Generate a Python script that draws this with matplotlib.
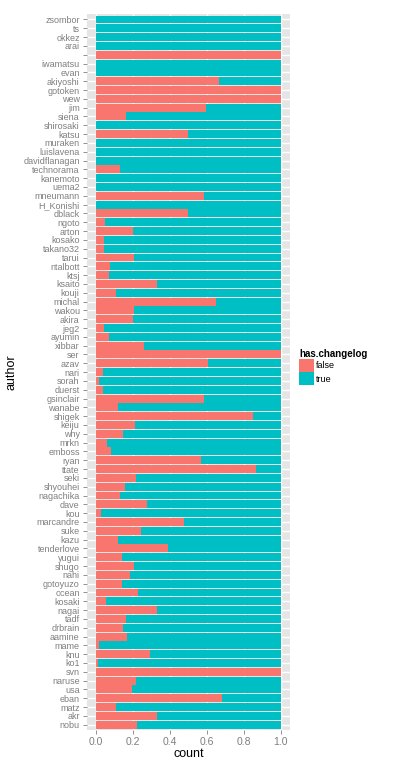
import numpy as np
import matplotlib
matplotlib.use('Agg')
import matplotlib.pyplot as plt
from matplotlib.patches import Patch

plt.rcParams['font.family'] = ['Liberation Sans', 'DejaVu Sans']

authors = ['zsombor', 'ts', 'okkez', 'arai', '', 'iwamatsu', 'evan', 'akiyoshi', 'gotoken', 'wew',
           'jim', 'siena', 'shirosaki', 'katsu', 'muraken', 'luislavena', 'davidflanagan', 'technorama',
           'kanemoto', 'uema2', 'mneumann', 'H_Konishi', 'dblack', 'ngoto', 'arton', 'kosako', 'takano32',
           'tarui', 'ntalbott', 'ktsj', 'ksaito', 'kouji', 'michal', 'wakou', 'akira', 'jeg2', 'ayumin',
           'xibbar', 'ser', 'azav', 'nari', 'sorah', 'duerst', 'gsinclair', 'wanabe', 'shigek', 'keiju',
           'why', 'mrkn', 'emboss', 'ryan', 'ttate', 'seki', 'shyouhei', 'nagachika', 'dave', 'kou',
           'marcandre', 'suke', 'kazu', 'tenderlove', 'yugui', 'shugo', 'nahi', 'gotoyuzo', 'ocean',
           'kosaki', 'nagai', 'tadf', 'drbrain', 'aamine', 'mame', 'knu', 'ko1', 'svn', 'naruse', 'usa',
           'eban', 'matz', 'akr', 'nobu']
# share of commits with has.changelog == false
false_share = [0, 0, 0, 0, 1.0, 0, 0, 0.664, 1.0, 1.0,
               0.598, 0.164, 0, 0.5, 0, 0, 0, 0.131,
               0, 0, 0.587, 0, 0.5, 0.05, 0.2, 0.045, 0.045,
               0.207, 0.078, 0.072, 0.333, 0.11, 0.647, 0.207, 0.2, 0.045, 0.072,
               0.262, 1.0, 0.609, 0.04, 0.018, 0.04, 0.587, 0.121, 0.848, 0.213,
               0.148, 0.061, 0.083, 0.571, 0.864, 0.219, 0.159, 0.131, 0.278, 0.029,
               0.479, 0.246, 0.121, 0.392, 0.142, 0.207, 0.186, 0.142, 0.23,
               0.056, 0.333, 0.164, 0.148, 0.17, 0.018, 0.295, 0.013, 1.0, 0.219, 0.197,
               0.68, 0.11, 0.333, 0.224]
true_share = [1 - f for f in false_share]

red = '#F8766D'
teal = '#00BFC4'
grey_txt = '#7F7F7F'

fig = plt.figure(figsize=(4, 7.68), dpi=100)
ax = fig.add_axes([0.2167, 0.0495, 0.5083, 0.932])
ax.set_facecolor('#E5E5E5')

y = np.arange(len(authors))
ax.barh(y, false_share, height=0.9, color=red, linewidth=0, zorder=3)
ax.barh(y, true_share, left=false_share, height=0.9, color=teal, linewidth=0, zorder=3)

ax.set_xlim(-0.05, 1.05)
ax.set_ylim(len(authors) - 0.4, -0.6)

ax.set_xticks([0, 0.2, 0.4, 0.6, 0.8, 1.0])
ax.set_xticklabels(['0.0', '0.2', '0.4', '0.6', '0.8', '1.0'])
ax.set_xticks([0.1, 0.3, 0.5, 0.7, 0.9], minor=True)
ax.set_yticks(y)
ax.set_yticklabels(authors)

ax.grid(True, which='major', color='white', linewidth=1.0, zorder=1)
ax.grid(True, which='minor', axis='x', color='#F2F2F2', linewidth=0.5, zorder=1)
ax.set_axisbelow(True)
for s in ax.spines.values():
    s.set_visible(False)

ax.tick_params(axis='both', which='major', color=grey_txt, length=3, width=0.6,
               labelcolor=grey_txt, pad=2)
ax.tick_params(axis='y', labelsize=6.5)
ax.tick_params(axis='x', labelsize=7.5)
ax.tick_params(which='minor', length=0)

ax.set_xlabel('count', fontsize=9, labelpad=1)
ax.set_ylabel('author', fontsize=9, labelpad=4)

handles = [Patch(facecolor=red, label='false'), Patch(facecolor=teal, label='true')]
leg = fig.legend(handles=handles, title='has.changelog', loc='upper left',
                 bbox_to_anchor=(0.748, 0.546), frameon=False, fontsize=6.5,
                 title_fontproperties={'weight': 'bold', 'size': 7},
                 handlelength=1.6, handleheight=1.9, handletextpad=0.3,
                 labelspacing=0.0, borderaxespad=0, borderpad=0)
leg._legend_box.align = 'left'

fig.savefig('out.png', dpi=100)
